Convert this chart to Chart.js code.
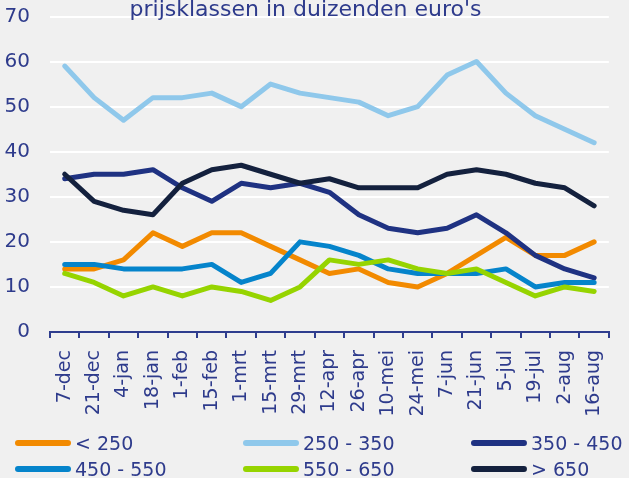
<!DOCTYPE html>
<html>
<head>
<meta charset="utf-8">
<script src="https://cdn.jsdelivr.net/npm/chart.js@4.4.0/dist/chart.umd.min.js"></script>
<style>
html, body { margin: 0; padding: 0; background: #f0f0f0; overflow: hidden; }
#wrap { position: relative; width: 629px; height: 478px; }
#chart { position: absolute; left: 0; top: 0; }
#title { position: absolute; left: 0; top: -2px; width: 611px; text-align: center;
  font: 22px/22px "DejaVu Sans", sans-serif; color: #2e3b8c; white-space: nowrap; }
.item { position: absolute; top: 0; height: 26px; display: flex; align-items: center;
  font: 19px "DejaVu Sans", sans-serif; color: #2e3b8c; white-space: nowrap; }
.swatch { width: 56px; height: 6px; border-radius: 3px; margin-right: 4px; }
</style>
</head>
<body>
<div id="wrap">
<canvas id="chart" width="629" height="478"></canvas>
<div id="title">prijsklassen in duizenden euro's</div>
<div id="legend"></div>
</div>
<script>
var labels = ["7-dec","21-dec","4-jan","18-jan","1-feb","15-feb","1-mrt","15-mrt","29-mrt","12-apr",
              "26-apr","10-mei","24-mei","7-jun","21-jun","5-jul","19-jul","2-aug","16-aug"];

var names = ["< 250", "250 - 350", "350 - 450", "450 - 550", "550 - 650", "> 650"];
var colors = ["#f28a00", "#8fc8eb", "#1f3282", "#0584cb", "#96d400", "#14213e"];

var lt250   = [14, 14, 16, 22, 19, 22, 22, 19, 16, 13, 14, 11, 10, 13, 17, 21, 17, 17, 20];
var p250350 = [59, 52, 47, 52, 52, 53, 50, 55, 53, 52, 51, 48, 50, 57, 60, 53, 48, 45, 42];
var p350450 = [34, 35, 35, 36, 32, 29, 33, 32, 33, 31, 26, 23, 22, 23, 26, 22, 17, 14, 12];
var p450550 = [15, 15, 14, 14, 14, 15, 11, 13, 20, 19, 17, 14, 13, 13, 13, 14, 10, 11, 11];
var p550650 = [13, 11,  8, 10,  8, 10,  9,  7, 10, 16, 15, 16, 14, 13, 14, 11,  8, 10,  9];
var gt650   = [35, 29, 27, 26, 33, 36, 37, 35, 33, 34, 32, 32, 32, 35, 36, 35, 33, 32, 28];

var series = [lt250, p250350, p350450, p450550, p550650, gt650];

var textColor = "#2e3b8c";
var axisColor = "#2e3d8e";
var fontFamily = "'DejaVu Sans', sans-serif";

var sets = [];
for (var i = 0; i < series.length; i++) {
    sets.push({
        label: names[i],
        data: series[i],
        borderColor: colors[i],
        backgroundColor: colors[i],
        fill: false,
        order: series.length - 1 - i
    });
}

var _myChart = new Chart(document.getElementById("chart"), {
    type: "line",
    data: { labels: labels, datasets: sets },
    options: {
        responsive: false,
        animation: false,
        layout: { padding: { top: 0, right: 2, left: 0, bottom: 0 } },
        plugins: {
            legend: { display: false },
            title: { display: false },
            tooltip: { enabled: false }
        },
        elements: {
            point: { radius: 0 },
            line: { borderWidth: 5, tension: 0, borderCapStyle: "round", borderJoinStyle: "round" }
        },
        scales: {
            x: {
                offset: true,
                grid: { offset: true, drawOnChartArea: false, drawTicks: true, tickLength: 6,
                        color: axisColor, lineWidth: 2 },
                border: { color: axisColor, width: 2 },
                ticks: { color: textColor, font: { family: fontFamily, size: 19 },
                         minRotation: 90, maxRotation: 90, padding: 12, autoSkip: false },
                afterFit: function (s) { s.height = 146; }
            },
            y: {
                min: 0, max: 70,
                ticks: { stepSize: 10, color: textColor, font: { family: fontFamily, size: 20 }, padding: 20 },
                grid: { drawTicks: false, lineWidth: 2,
                        color: function (c) { return c.tick && c.tick.value === 0 ? "rgba(0,0,0,0)" : "#ffffff"; } },
                border: { display: false },
                afterFit: function (s) {
                    // tick padding would otherwise push the plot area down
                    s.width = 50;
                    s.paddingTop = 16.5;
                    s.paddingBottom = 12;
                }
            }
        }
    }
});

// legend in three columns, two rows, like the original
var legendCols = [15, 243, 471];
var legendRows = [442.5, 468.5];
function buildLegend(id) {
    var el = document.getElementById(id);
    for (var i = 0; i < names.length; i++) {
        var item = document.createElement("div");
        item.className = "item";
        item.style.left = legendCols[i % 3] + "px";
        item.style.top = (legendRows[Math.floor(i / 3)] - 13) + "px";
        var sw = document.createElement("div");
        sw.className = "swatch";
        sw.style.background = colors[i];
        item.appendChild(sw);
        item.appendChild(document.createTextNode(names[i]));
        el.appendChild(item);
    }
}
buildLegend("legend");
</script>
</body>
</html>
